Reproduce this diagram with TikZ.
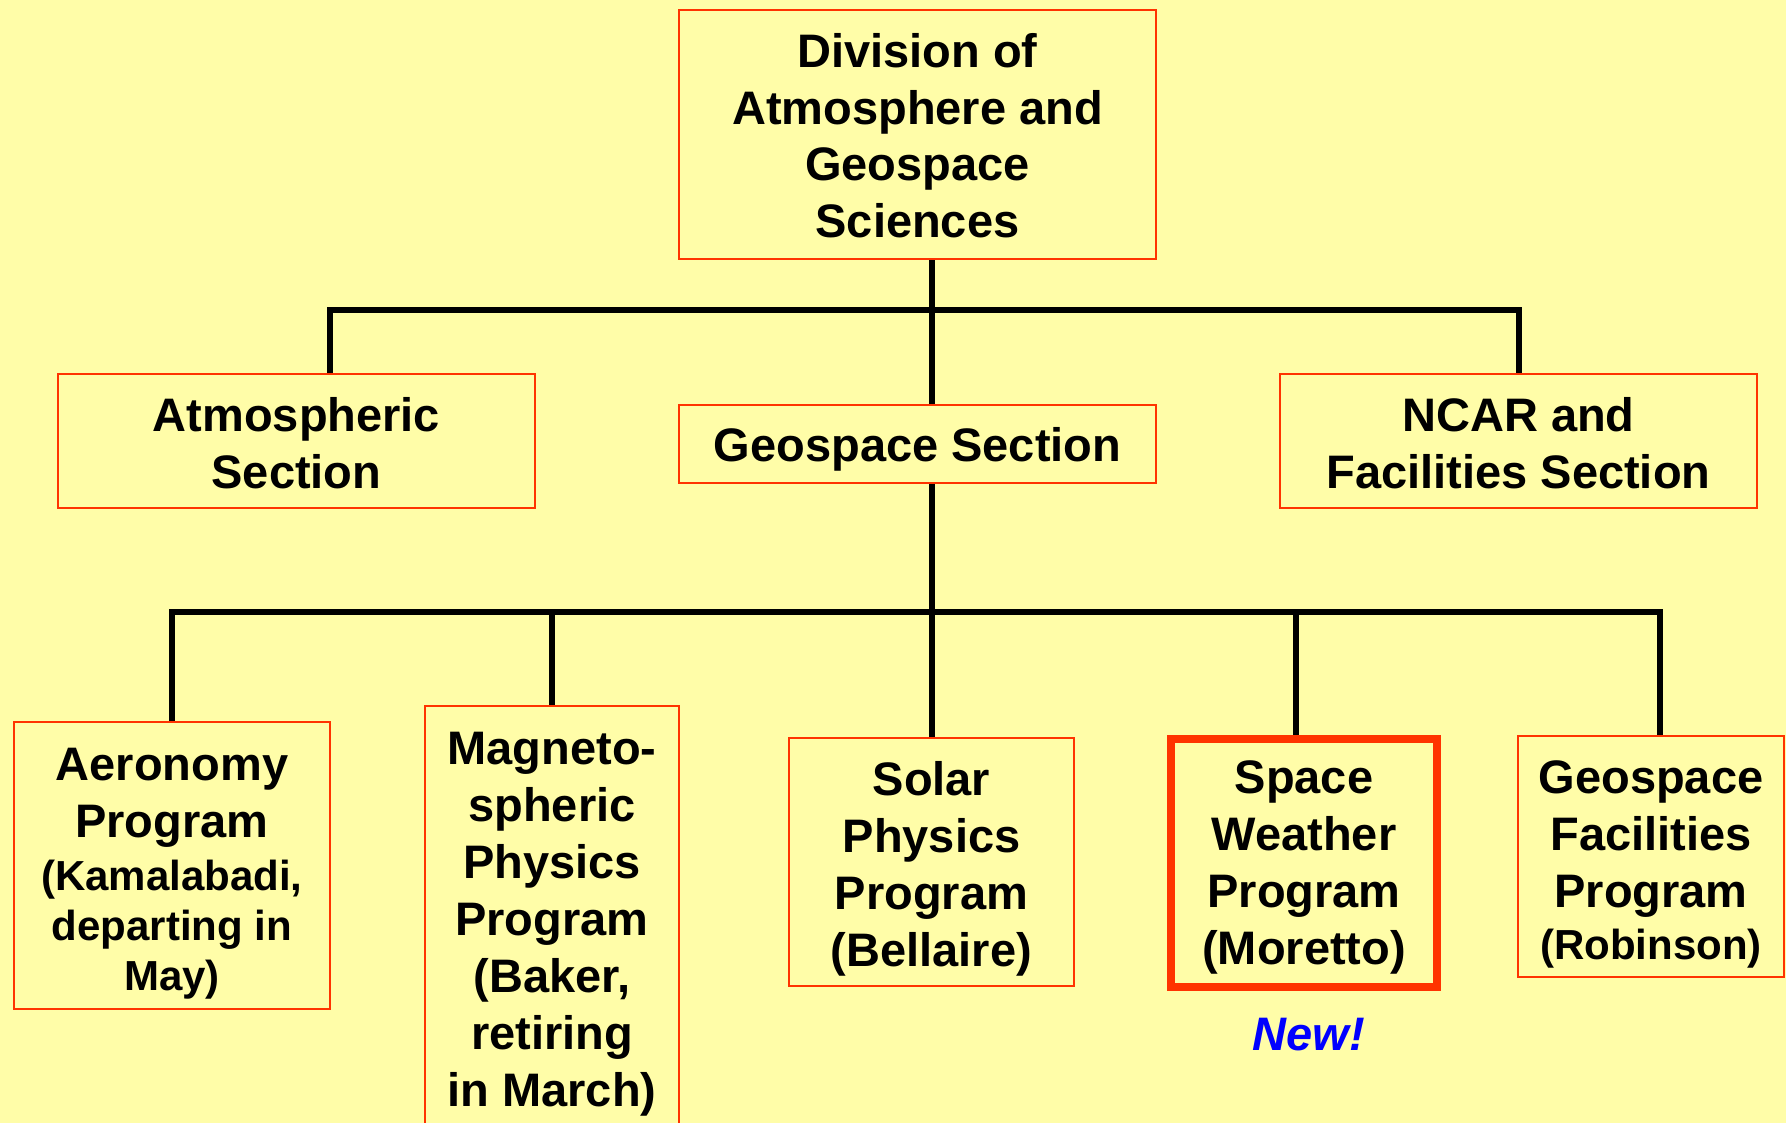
\documentclass[tikz,border=0pt]{standalone}
\usepackage{fontspec}
\setmainfont{Liberation Sans}
\usepackage{xcolor}
\usepackage{tikz}
\usetikzlibrary{positioning,calc}

\definecolor{paper}{RGB}{255,253,168}
\definecolor{boxred}{RGB}{255,51,0}
\definecolor{newblue}{RGB}{0,0,255}
\newcommand{\subtxt}{\fontsize{23.9pt}{29pt}\selectfont}
\newcommand{\dropto}[1]{\rule{0pt}{#1}}

\begin{document}
\begin{tikzpicture}[
  x=0.02cm, y=-0.02cm,
  unit/.style={draw=boxred, line width=0.04cm, align=center, inner sep=0pt, font=\fontsize{26.75pt}{32.4pt}\selectfont\bfseries},
  newunit/.style={unit, line width=0.16cm},
  link/.style={black, line width=0.12cm}
]

\fill[paper] (0,0) rectangle (1786,1123);
\useasboundingbox (0,0) rectangle (1786,1123);

\node[unit, minimum width=9.56cm, minimum height=5.0cm] (div) at (917.5,134.5) {\dropto{0.73cm}Division of\\Atmosphere and\\Geospace\\Sciences};
\node[unit, minimum width=9.54cm, minimum height=2.68cm] (atm) at (296.5,441) {\dropto{0.77cm}Atmospheric\\Section};
\node[unit, minimum width=9.54cm, minimum height=1.56cm] (gsec) at (917.5,444) {\dropto{0.91cm}Geospace Section};
\node[unit, minimum width=9.54cm, minimum height=2.68cm] (ncar) at (1518.5,441) {\dropto{0.77cm}NCAR and\\Facilities Section};

\node[unit, minimum width=6.32cm, minimum height=5.74cm] (aero) at (172,865.5) {\dropto{0.97cm}Aeronomy\\Program\\[-2pt]\subtxt (Kamalabadi,\\[-4pt]\subtxt departing in\\[-4pt]\subtxt May)};
\node[unit, minimum width=5.08cm, minimum height=8.48cm] (mag) at (552,918) {\dropto{0.89cm}Magneto-\\spheric\\Physics\\Program\\(Baker,\\retiring\\in March)};
\node[unit, minimum width=5.7cm, minimum height=4.96cm] (solar) at (931.5,862) {\dropto{0.97cm}Solar\\Physics\\Program\\(Bellaire)};
\node[newunit, minimum width=5.32cm, minimum height=4.96cm] (spw) at (1304,863) {\dropto{0.83cm}Space\\Weather\\Program\\(Moretto)};
\node[unit, minimum width=5.34cm, minimum height=4.82cm] (gfac) at (1651,856.5) {\dropto{0.97cm}Geospace\\Facilities\\Program\\[-3pt]\subtxt (Robinson)};

\node[font=\fontsize{26.75pt}{32.4pt}\selectfont\bfseries\itshape, text=newblue, below=0.42cm of spw, xshift=0.1cm] (new) {New!};

% Connectors
\coordinate (topbus) at (0,310);
\coordinate (lowbus) at (0,612);
\draw[link] ([xshift=0.29cm]div.south) -- ([xshift=0.29cm]div.south |- gsec.north);
\draw[link] ([xshift=0.68cm]atm.north) -- ([xshift=0.68cm]atm.north |- topbus) -- (ncar.north |- topbus) -- (ncar.north);
\draw[link] (gsec.south -| solar.north) -- (solar.north);
\draw[link] (aero.north) -- (aero.north |- lowbus) -- ([xshift=0.18cm]gfac.north |- lowbus) -- ([xshift=0.18cm]gfac.north);
\draw[link] (mag.north) -- (mag.north |- lowbus);
\draw[link] ([xshift=-0.16cm]spw.north) -- ([xshift=-0.16cm]spw.north |- lowbus);

\end{tikzpicture}
\end{document}
